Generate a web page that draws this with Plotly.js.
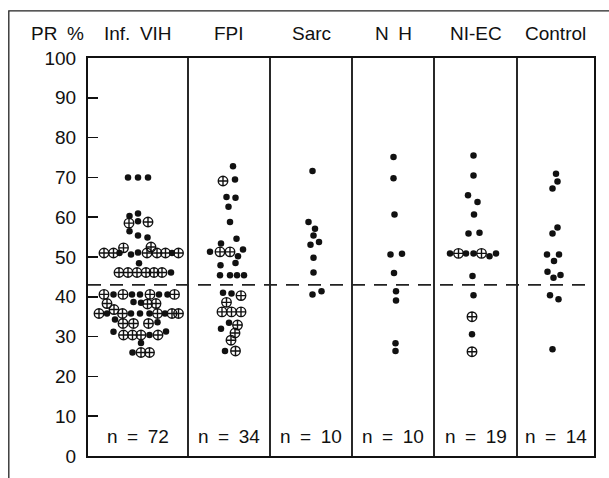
<!DOCTYPE html>
<html><head><meta charset="utf-8">
<script src="https://cdn.plot.ly/plotly-3.0.1.min.js"></script>
<style>html,body{margin:0;padding:0;background:#fff}#chart{width:609px;height:478px}</style>
</head><body><div id="chart"></div>
<script>
// ---- data ----
const groups = ["Inf. VIH", "FPI", "Sarc", "N H", "NI-EC", "Control"];
const counts = [72, 34, 10, 10, 19, 14];
const referenceLine = 43;
const yTicks = [0, 10, 20, 30, 40, 50, 60, 70, 80, 90, 100];

// PR % values; jitter = horizontal spread inside the column; kind: f = filled dot, c = crossed circle
const vihValues = [70,70,70, 60.3,60.9,58.5,59.0,58.8,56.5,55.4,54.9,
  51.0,51.0,51.0,52.3,50.6,51.1,51.0,52.5,51.0,51.0,51.0,51.0, 48.4,
  46.1,46.1,46.1,46.1,46.1,46.1,46.1,
  40.6,40.6,40.6,40.6,40.6,40.6,40.6,40.6,40.6, 38.7,38.5,38.3,38.2,38.3,
  35.8,35.8,36.8,35.8,35.8,35.8,35.8,35.8,35.8,35.8,35.8, 34.3,
  33.3,33.3,33.3,33.6, 31.2,30.4,30.4,30.4,30.4,30.4,31.3, 28.4, 26.0,26.0,26.0];
const vihJitter = [-10,0,10, -8.5,0,-9,0,10,-8.5,0,9.5,
  -34,-24.5,-18.5,-14.5,-7,0,9,13,19,27.5,34,40.5, 1,
  -19,-10,-1,8,16,24,33,
  -34,-24.5,-15,-6,2,12,21,29.5,36.5, -4.5,3,-31,9.5,18,
  -39,-31,-24,-15.5,-7,2,11.5,19.5,27,34,40.5, -23,
  -15,-4.5,10.5,19.5, -24.5,-14.5,-5.5,3,11.5,20,28, 3, -5.5,3,11.5];
const vihKinds = ["f","f","f", "f","f","c","f","c","f","f","f",
  "c","c","f","c","f","f","c","c","c","c","f","c", "f",
  "c","c","c","c","c","c","f",
  "c","f","c","f","f","c","f","f","c", "f","f","c","c","c",
  "c","f","c","c","f","f","f","c","f","c","c", "f",
  "c","c","c","f", "f","c","c","c","f","c","f", "f", "f","c","c"];

const fpiValues = [72.8,69.1,69.5,65.1,64.9,62.6,58.8,54.6,53.4,
  51.3,51.3,51.3,51.9,50.2,47.9,48.5, 45.4,45.4,45.4,45.4,
  41.0,40.8,40.3,38.6,36.2,36.2,36.2, 33.5,32.9,32.0,30.9,29.1,26.4,26.4];
const fpiJitter = [4,-6,6,-2.5,6.5,-0.5,1,7.5,-8,
  -19,-9,1,14,9,-8.5,6.5, -9,1,8,15,
  -6,2.5,12,-2.5,-7,2.5,12, 0,8.5,-8,6,2,-4,6.5];
const fpiKinds = ["f","c","f","f","f","f","f","f","f",
  "f","c","c","f","f","f","f", "f","f","f","f",
  "f","f","c","c","c","c","c", "f","c","f","c","c","f","c"];

const sarcValues = [71.6,58.8,57.1,55.4,53.8,53.1,49.8,46.1,41.4,40.6];
const sarcJitter = [1.5,-2.5,4,2.5,8,-0.5,2.5,2.5,10.5,1.5];
const sarcKinds = ["f","f","f","f","f","f","f","f","f","f"];

const nhValues = [75.1,69.8,60.7,50.6,50.8,46.0,41.4,39.1,28.3,26.4];
const nhJitter = [0.5,0.5,1.5,-2.5,9,1,3,3,2.5,2.5];
const nhKinds = ["f","f","f","f","f","f","f","f","f","f"];

const niecValues = [75.5,70.5,65.5,63.8,60.7,55.9,56.1,
  50.9,50.9,50.9,50.9,50.9,50.2,50.9, 45.2,40.4,35.0,30.6,26.2];
const niecJitter = [-2,-2,-7.5,2,-1.5,-7,4,
  -25.5,-17,-9.5,-2,6,14,20.5, -3,-2,-3.5,-3.5,-3.5];
const niecKinds = ["f","f","f","f","f","f","f",
  "f","c","f","f","c","f","f", "f","f","c","f","c"];

const controlValues = [70.9,69.0,67.2,57.4,55.9,50.6,50.6,49.0,46.3,45.5,44.8,40.4,39.4,26.8];
const controlJitter = [0.5,2,-3,2,-3,-8.5,3.5,-1.5,-8,5,-2,-5.5,3,-3];
const controlKinds = ["f","f","f","f","f","f","f","f","f","f","f","f","f","f"];

// ---- layout helpers (not data) ----
const colEdges = [0, 100, 182, 264, 346, 429, 506];
const colCenters = colEdges.slice(0, -1).map((e, i) => (e + colEdges[i + 1]) / 2);
const FONT = "Liberation Sans, Arial, Helvetica, sans-serif";
const FS = 19;
const INK = "#111";
const wide = s => s.replace(/ /g, "\u2002");   // the original typesetting uses wide word spaces

const seriesData = [
  [vihValues, vihJitter, vihKinds],
  [fpiValues, fpiJitter, fpiKinds],
  [sarcValues, sarcJitter, sarcKinds],
  [nhValues, nhJitter, nhKinds],
  [niecValues, niecJitter, niecKinds],
  [controlValues, controlJitter, controlKinds]
];

const traces = [];
seriesData.forEach(([vals, jit, kinds], gi) => {
  ["f", "c"].forEach(k => {
    const xs = [], ys = [];
    vals.forEach((v, i) => { if (kinds[i] === k) { xs.push(colCenters[gi] + jit[i]); ys.push(v); } });
    if (!xs.length) return;
    traces.push({
      type: "scatter", mode: "markers", x: xs, y: ys, name: groups[gi],
      showlegend: false, hoverinfo: "skip", cliponaxis: false,
      marker: k === "f"
        ? { symbol: "circle", size: 6.5, color: INK, line: { width: 0 } }
        : { symbol: "circle-cross-open", size: 9.5, color: INK, line: { width: 1.4, color: INK } }
    });
  });
});

const shapes = [];
colEdges.slice(1, -1).forEach(e => shapes.push({
  type: "line", xref: "x", yref: "y", x0: e, x1: e, y0: 0, y1: 100,
  line: { color: INK, width: 1.8 }
}));
shapes.push({
  type: "line", xref: "x", yref: "y", x0: colEdges[0], x1: colEdges[colEdges.length - 1],
  y0: referenceLine, y1: referenceLine, line: { color: "#222", width: 1.8, dash: "13px,9px" }
});
// outer frame of the figure (left and top edges)
shapes.push({
  type: "path", xref: "paper", yref: "paper",
  path: "M -0.1565,-0.06 L -0.1565,1.1185 L 1.04,1.1185",
  line: { color: "#222", width: 1.3 }
});

const annotations = [];
groups.forEach((g, i) => {
  annotations.push({ text: wide(g), xref: "x", yref: "paper", x: colCenters[i], y: 1.061,
    showarrow: false, xanchor: "center", yanchor: "middle", font: { family: FONT, size: FS, color: INK } });
  annotations.push({ text: wide("n = " + counts[i]), xref: "x", yref: "y", x: colCenters[i], y: 4.9,
    showarrow: false, xanchor: "center", yanchor: "middle", font: { family: FONT, size: FS, color: INK } });
});
annotations.push({ text: wide("PR %"), xref: "paper", yref: "paper", x: -0.0612, y: 1.061,
  showarrow: false, xanchor: "center", yanchor: "middle", font: { family: FONT, size: FS, color: INK } });

const layout = {
  width: 609, height: 478,
  margin: { l: 88, r: 15, t: 58, b: 22, pad: 0, autoexpand: false },
  paper_bgcolor: "#fff", plot_bgcolor: "#fff",
  showlegend: false,
  font: { family: FONT, size: FS, color: INK },
  xaxis: {
    range: [colEdges[0], colEdges[colEdges.length - 1]], showgrid: false, zeroline: false,
    showticklabels: false, ticks: "", showline: true, mirror: true, linecolor: INK, linewidth: 2,
    fixedrange: true
  },
  yaxis: {
    range: [0, 100], tickvals: yTicks, ticktext: yTicks.map(String),
    ticks: "inside", ticklen: 10, tickwidth: 1.5, tickcolor: INK,
    showgrid: false, zeroline: false, showline: true, mirror: true, linecolor: INK, linewidth: 2,
    tickfont: { family: FONT, size: FS, color: INK }, ticklabelstandoff: 6,
    fixedrange: true
  },
  shapes: shapes,
  annotations: annotations
};

Plotly.newPlot("chart", traces, layout, { staticPlot: true, displayModeBar: false });
</script>
</body></html>
